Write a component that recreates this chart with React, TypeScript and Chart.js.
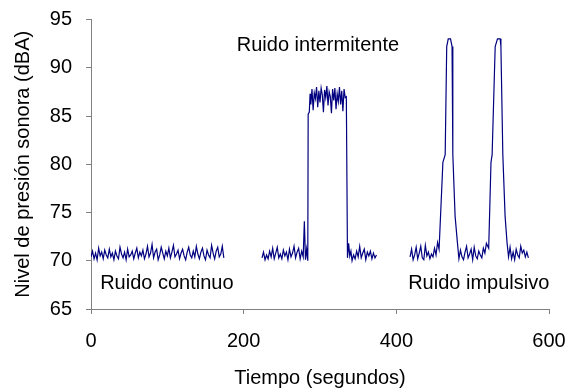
import React, { useEffect, useRef } from "react";
import { Chart, registerables } from "chart.js";

Chart.register(...registerables);

// Continuous noise: sampled every 2 s from t = 0
const continuousStart = 0;
const continuousStep = 2;
const continuousLevels = [
  70.4, 71.0, 70.2, 70.8, 70.1, 71.3, 70.5, 70.9, 70.2, 71.1, 70.6, 70.3, 71.2, 70.4, 70.8,
  70.1, 71.0, 70.5, 70.2, 71.4, 70.7, 70.3, 70.9, 70.1, 71.2, 70.4, 70.6, 71.0, 70.2, 70.8,
  71.3, 70.3, 70.9, 70.5, 71.1, 70.2, 70.7, 71.5, 70.4, 70.8, 71.7, 70.3, 70.9, 71.2, 70.1,
  70.6, 71.4, 70.8, 70.2, 71.0, 70.5, 71.3, 70.3, 70.9, 71.6, 70.4, 70.7, 71.1, 70.2, 70.8,
  71.2, 70.5, 70.1, 70.9, 71.4, 70.6, 70.3, 71.0, 70.4, 71.5, 70.7, 70.2, 70.9, 71.3, 70.5,
  70.1, 71.1, 70.6, 70.3, 71.6, 70.8, 70.2, 71.0, 71.4, 70.4, 70.7, 71.5, 70.3,
];

// Intermittent noise
const intermittentTimes = [
  224, 226, 228, 230, 232, 234, 236, 238, 240, 242, 244, 246, 248, 250, 252, 254, 256, 258,
  260, 262, 264, 266, 268, 270, 272, 274, 276, 278, 279.5, 281, 282.5, 284, 284.5, 286, 287,
  288, 289.5, 291, 292.5, 294, 295.5, 297, 298.5, 300, 301.5, 303, 304.5, 306, 307.5, 309,
  310.5, 312, 313.5, 315, 316.5, 318, 319.5, 321, 322.5, 324, 325.5, 327, 328.5, 330, 331.5,
  333, 334.5, 336, 337.5, 339, 340.5, 342, 344, 346, 348, 350, 352, 354, 356, 358, 360, 362,
  364, 366, 368, 370, 372, 374,
];
const intermittentLevels = [
  70.3, 70.9, 70.1, 70.6, 70.2, 71.0, 70.4, 71.3, 70.2, 70.8, 71.4, 70.3, 70.7, 70.2, 71.1,
  70.5, 70.9, 70.1, 71.2, 70.4, 70.8, 71.5, 70.3, 70.9, 71.3, 70.2, 71.0, 70.4, 74.1, 70.1,
  71.2, 70.0, 85.2, 85.4, 87.3,
  86.2, 87.8, 85.6, 87.4, 86.8, 88.0, 85.9, 87.6, 86.4, 87.9, 87.2, 85.4, 87.7, 86.9, 88.1,
  86.1, 87.5, 87.0, 85.3, 87.8, 86.6, 87.9, 85.7, 87.3, 86.5, 88.0, 86.2, 87.6, 85.5, 87.8,
  86.9, 87.0, 70.3, 71.8, 70.5, 71.0, 70.0, 70.6, 70.2, 71.0, 70.4, 71.5, 70.3, 70.8, 71.2,
  70.1, 70.9, 70.5, 71.0, 70.2, 70.8, 70.3, 70.6,
];

// Impulsive noise
const impulsiveTimes = [
  418, 420, 422, 424, 426, 428, 430, 432, 434, 436, 438, 440, 442, 444, 446, 448, 450, 452, 454,
  456, 461, 464, 466, 468, 471, 473, 474, 477, 480,
  482, 484, 486, 488, 490, 492, 494, 496, 498, 500, 502, 504, 506, 508, 510, 512, 514, 516, 518,
  521, 524, 525.5, 529.5, 532.5, 536, 537, 539.5, 542.5, 545,
  547, 549, 551, 553, 555, 557, 559, 561, 563, 565, 567, 569, 571, 573,
];
const impulsiveLevels = [
  70.4, 71.2, 70.1, 70.6, 71.4, 70.2, 70.8, 71.5, 70.3, 70.1, 71.6, 70.5, 70.9, 70.2, 70.7,
  70.4, 71.3, 70.6, 71.9,
  71.2, 80.2, 81.0, 92.2, 93.0, 93.0, 92.2, 81.0, 74.6, 71.9,
  70.2, 71.1, 70.4, 70.1, 70.9, 71.5, 70.3, 70.7, 71.2, 70.1, 71.4, 70.5, 70.2, 71.0, 70.6,
  70.3, 71.3, 70.8, 71.8,
  71.3, 80.2, 81.0, 92.2, 93.0, 93.0, 92.2, 81.0, 74.6, 71.9,
  70.4, 71.4, 70.2, 70.9, 70.1, 71.2, 70.6, 70.3, 71.5, 70.8, 71.1, 70.4, 70.9, 70.3,
];

const xTicks = [0, 200, 400, 600];
const yTicks = [65, 70, 75, 80, 85, 90, 95];

const annotations = [
  { text: "Ruido continuo", x: 12, y: 67.65 },
  { text: "Ruido intermitente", x: 191, y: 92.3 },
  { text: "Ruido impulsivo", x: 415.5, y: 67.65 },
];

const FONT = '"Liberation Sans", Arial, sans-serif';
const LINE = "#000080";
const AXIS = "#808080";

export default function App() {
  const ref = useRef<HTMLCanvasElement>(null);

  useEffect(() => {
    document.body.style.margin = "0";
    const canvas = ref.current;
    if (!canvas) return;

    const continuous = continuousLevels.map((y, i) => ({
      x: continuousStart + i * continuousStep,
      y,
    }));
    const intermittent = intermittentTimes.map((x, i) => ({ x, y: intermittentLevels[i] }));
    const impulsive = impulsiveTimes.map((x, i) => ({ x, y: impulsiveLevels[i] }));

    const ds = (data: { x: number; y: number }[]) => ({
      data,
      borderColor: LINE,
      borderWidth: 1.2,
      pointRadius: 0,
      tension: 0,
      fill: false,
    });

    const textPlugin = {
      id: "labels",
      afterDatasetsDraw(chart: any) {
        const { ctx, scales } = chart;
        ctx.save();
        ctx.font = `20px ${FONT}`;
        ctx.fillStyle = "#000";
        ctx.textAlign = "left";
        ctx.textBaseline = "middle";
        annotations.forEach((a) => {
          ctx.fillText(a.text, scales.x.getPixelForValue(a.x), scales.y.getPixelForValue(a.y));
        });
        ctx.restore();
      },
    };

    const chart = new Chart(canvas, {
      type: "line",
      data: { datasets: [ds(continuous), ds(intermittent), ds(impulsive)] },
      options: {
        animation: false,
        responsive: false,
        layout: { padding: { left: 0, right: 18, top: 19.5, bottom: 0 } },
        plugins: { legend: { display: false }, tooltip: { enabled: false } },
        scales: {
          x: {
            type: "linear",
            min: 0,
            max: 600,
            afterBuildTicks: (s: any) => {
              s.ticks = xTicks.map((v) => ({ value: v }));
            },
            afterFit: (s: any) => {
              s.height = 81;
              s.paddingLeft = 0;
              s.paddingRight = 0;
              s.paddingTop = 0;
              s.paddingBottom = 0;
            },
            ticks: { color: "#000", font: { family: FONT, size: 20 }, padding: 15, maxRotation: 0 },
            grid: { drawOnChartArea: false, tickLength: 5, color: AXIS },
            border: { color: AXIS },
            title: {
              display: true,
              text: "Tiempo (segundos)",
              color: "#000",
              font: { family: FONT, size: 20 },
              padding: { top: 0, bottom: 0 },
            },
          },
          y: {
            type: "linear",
            min: 65,
            max: 95,
            afterBuildTicks: (s: any) => {
              s.ticks = yTicks.map((v) => ({ value: v }));
            },
            afterFit: (s: any) => {
              s.width = 91;
              s.paddingLeft = 0;
              s.paddingRight = 0;
              s.paddingTop = 0;
              s.paddingBottom = 0;
            },
            ticks: { color: "#000", font: { family: FONT, size: 20 }, padding: 14 },
            grid: { drawOnChartArea: false, tickLength: 5, color: AXIS },
            border: { color: AXIS },
            title: {
              display: true,
              text: "Nivel de presión sonora (dBA)",
              color: "#000",
              font: { family: FONT, size: 20 },
              padding: { top: 11, bottom: 0 },
            },
          },
        },
      },
      plugins: [textPlugin],
    });

    return () => chart.destroy();
  }, []);

  return <canvas ref={ref} width={567} height={390} />;
}
